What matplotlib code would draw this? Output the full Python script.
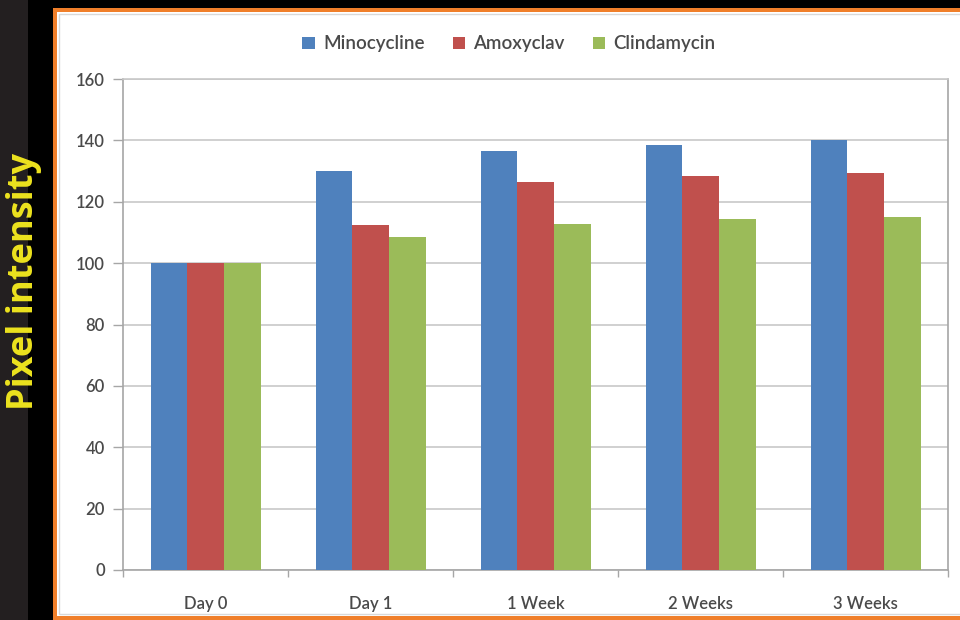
import matplotlib
matplotlib.use("Agg")
import matplotlib.pyplot as plt
from matplotlib.patches import Rectangle
import numpy as np

categories = ["Day 0", "Day 1", "1 Week", "2 Weeks", "3 Weeks"]
minocycline = [100, 130, 136.4, 138.5, 140]
amoxyclav = [100, 112.5, 126.5, 128.4, 129.3]
clindamycin = [100, 108.4, 112.7, 114.3, 115.1]
series_names = ["Minocycline", "Amoxyclav", "Clindamycin"]
colors = ["#4f81bd", "#c0504d", "#9bbb59"]
yticks = [0, 20, 40, 60, 80, 100, 120, 140, 160]

W, H = 960, 620
fig = plt.figure(figsize=(W / 100, H / 100), dpi=100, facecolor="black")

def px_rect(x0, y0, x1, y1, **kw):
    fig.patches.append(Rectangle((x0 / W, 1 - y1 / H), (x1 - x0) / W, (y1 - y0) / H,
                                 transform=fig.transFigure, figure=fig, **kw))

# background layers
px_rect(0, 0, 28, 620, facecolor="#231f20", edgecolor="none", zorder=-10)
px_rect(53, 8, 965, 620, facecolor="#f07f2a", edgecolor="none", zorder=-9)
px_rect(57, 12, 965, 616, facecolor="#ffffff", edgecolor="none", zorder=-8)
px_rect(59, 14, 965, 614, facecolor="none", edgecolor="#d9d9d9", linewidth=1, zorder=-7)

fig.text(24 / W, 1 - 281 / H, "Pixel intensity", rotation=90, color="#ede31e",
         fontsize=26, fontweight="bold", family="Open Sans", ha="center", va="center")

ax = fig.add_axes([123 / W, 1 - 570 / H, (948 - 123) / W, (570 - 79) / H])
ax.set_zorder(2)
ax.set_facecolor("white")

x = np.arange(len(categories))
bw = 1 / 4.5
for j, (vals, name, c) in enumerate(zip([minocycline, amoxyclav, clindamycin], series_names, colors)):
    ax.bar(x + (j - 1) * bw, vals, width=bw, color=c, label=name, zorder=3, linewidth=0)

ax.set_xlim(-0.5, len(categories) - 0.5)
ax.set_ylim(0, 160)
ax.set_yticks(yticks)
ax.set_yticklabels([str(v) for v in yticks], family="Lato", fontsize=12,
                   fontweight="semibold", color="#4a4a4a")
ax.set_xticks(x)
ax.set_xticklabels(categories, family="Lato", fontsize=12, fontweight="semibold", color="#4a4a4a")
ax.set_xticks(np.arange(len(categories) + 1) - 0.5, minor=True)
ax.tick_params(axis="x", which="major", length=0, pad=19)
ax.tick_params(axis="x", which="minor", length=5, color="#a6a6a6", width=1)
ax.tick_params(axis="y", length=7, color="#a6a6a6", width=1, pad=6)
ax.grid(axis="y", color="#c8c8c8", linewidth=1.2, zorder=0)
for s in ax.spines.values():
    s.set_color("#a6a6a6")
    s.set_linewidth(1.2)
ax.spines["top"].set_color("#c8c8c8")

leg = fig.legend(loc="center", bbox_to_anchor=(509 / W, 1 - 44 / H), ncol=3, frameon=False,
                 prop={"family": "Lato", "size": 13.5, "weight": "semibold"},
                 handlelength=0.65, handleheight=0.65,
                 handletextpad=0.45, columnspacing=1.5)
for t in leg.get_texts():
    t.set_color("#4a4a4a")

fig.savefig("out.png", dpi=100, facecolor=fig.get_facecolor())
